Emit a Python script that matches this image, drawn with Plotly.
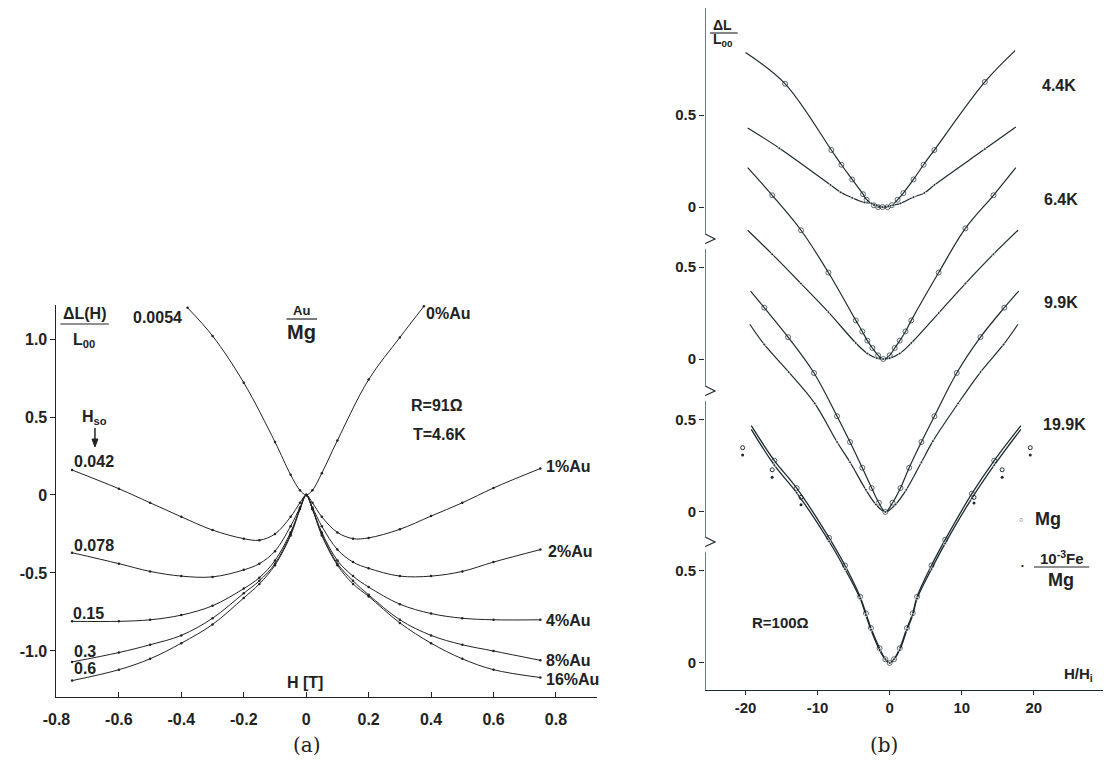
import plotly.graph_objects as go

W, Hh = 1107, 767

# ---------------- Panel (a) data ----------------
H_a = [-0.75, -0.6, -0.5, -0.4, -0.3, -0.2, -0.15, -0.1, -0.05, -0.02, 0,
       0.02, 0.05, 0.1, 0.15, 0.2, 0.3, 0.4, 0.5, 0.6, 0.75]
au1 = [0.16, 0.04, -0.05, -0.14, -0.225, -0.28, -0.29, -0.25, -0.14, -0.05, 0,
       -0.05, -0.14, -0.24, -0.28, -0.275, -0.22, -0.135, -0.05, 0.045, 0.17]
au2 = [-0.37, -0.44, -0.49, -0.52, -0.525, -0.48, -0.44, -0.36, -0.2, -0.08, 0,
       -0.08, -0.2, -0.35, -0.43, -0.47, -0.52, -0.52, -0.49, -0.43, -0.35]
au4 = [-0.81, -0.81, -0.80, -0.77, -0.71, -0.60, -0.53, -0.42, -0.24, -0.09, 0,
       -0.09, -0.24, -0.42, -0.52, -0.59, -0.70, -0.76, -0.79, -0.80, -0.80]
au8 = [-1.07, -1.01, -0.96, -0.90, -0.79, -0.63, -0.55, -0.44, -0.25, -0.09, 0,
       -0.09, -0.25, -0.44, -0.55, -0.64, -0.80, -0.90, -0.96, -1.0, -1.06]
au16 = [-1.19, -1.12, -1.05, -0.95, -0.83, -0.66, -0.57, -0.45, -0.26, -0.09, 0,
        -0.09, -0.26, -0.45, -0.57, -0.65, -0.82, -0.95, -1.05, -1.12, -1.17]
H_au0 = [-0.38, -0.3, -0.2, -0.1, -0.05, -0.02, 0, 0.02, 0.05, 0.1, 0.2, 0.3, 0.377]
au0 = [1.2, 1.02, 0.72, 0.34, 0.13, 0.03, 0, 0.03, 0.14, 0.35, 0.74, 1.01, 1.21]

a_xticks = [-0.8, -0.6, -0.4, -0.2, 0, 0.2, 0.4, 0.6, 0.8]
a_xtext = ["-0.8", "-0.6", "-0.4", "-0.2", "0", "0.2", "0.4", "0.6", "0.8"]
a_yticks = [-1.0, -0.5, 0, 0.5, 1.0]
a_ytext = ["-1.0", "-0.5", "0", "0.5", "1.0"]

# ---------------- Panel (b) data ----------------
# 4.4 K
H44_mg = [-20, -14.5, -8.1, -6.7, -5.2, -3.7, -3.2, -2.2, -1.6, -1, -0.3, 0.3, 1.1, 1.9, 3.3, 4.7, 6.2, 13.2, 17.4]
v44_mg = [0.84, 0.67, 0.31, 0.23, 0.15, 0.07, 0.04, 0.01, 0.0, 0.0, 0.0, 0.01, 0.04, 0.076, 0.15, 0.23, 0.31, 0.68, 0.85]
H44_fe = [-19.7, -15.3, -8.2, -6.8, -5.2, -3.5, -2.5, -1.8, -1, -0.2, 0.5, 1.5, 3.3, 4.8, 6.2, 13.2, 17.5]
v44_fe = [0.43, 0.32, 0.12, 0.08, 0.05, 0.025, 0.02, 0.01, 0.0, 0.005, 0.01, 0.02, 0.054, 0.076, 0.12, 0.315, 0.435]
# 6.4 K
H64_mg = [-19.7, -16.3, -12.3, -8.5, -4.7, -3.8, -3.1, -2.4, -1.6, -0.9, 0, 0.7, 1.4, 2.2, 3, 6.8, 10.5, 14.4, 17.5]
v64_mg = [1.04, 0.89, 0.70, 0.47, 0.21, 0.15, 0.10, 0.06, 0.02, 0.0, 0.02, 0.06, 0.10, 0.15, 0.21, 0.47, 0.71, 0.89, 1.04]
H64_fe = [-19.7, -16.3, -12.3, -8.5, -4.7, -3.1, -1.8, -0.9, 0, 1.4, 3, 6.8, 10.5, 14.4, 17.8]
v64_fe = [0.70, 0.57, 0.41, 0.255, 0.087, 0.03, 0.005, 0.0, 0.005, 0.03, 0.087, 0.25, 0.41, 0.57, 0.70]
# 9.9 K
H99_mg = [-19.3, -17.4, -14.1, -10.5, -7.3, -5.5, -3.8, -2.5, -1.5, -0.6, 0.4, 1.5, 2.7, 4.4, 6.2, 9.3, 12.6, 15.9, 17.9]
v99_mg = [1.2, 1.11, 0.95, 0.755, 0.52, 0.38, 0.24, 0.13, 0.05, 0.0, 0.05, 0.13, 0.24, 0.38, 0.52, 0.755, 0.95, 1.11, 1.2]
H99_fe = [-19.4, -17.4, -14, -10.4, -7.3, -5.5, -3.3, -1.9, -0.6, 0.8, 2.3, 4.4, 6, 9.5, 12.6, 15.8, 17.8]
v99_fe = [1.02, 0.91, 0.76, 0.59, 0.38, 0.27, 0.12, 0.04, 0.0, 0.04, 0.12, 0.27, 0.385, 0.59, 0.76, 0.91, 1.02]
# 19.9 K
H199 = [-19.2, -16, -12.9, -8.4, -6.2, -4.1, -3.3, -2.6, -1.4, -0.6, 0, 0.6, 1.4, 2.4, 3.2, 3.8, 5.8, 7.7, 11.4, 14.5, 18.2]
v199_mg = [1.29, 1.10, 0.95, 0.68, 0.53, 0.36, 0.27, 0.19, 0.08, 0.02, 0, 0.02, 0.08, 0.19, 0.27, 0.36, 0.53, 0.67, 0.92, 1.10, 1.29]
v199_fe = [1.27, 1.075, 0.925, 0.66, 0.51, 0.35, 0.26, 0.18, 0.07, 0.02, 0, 0.02, 0.07, 0.18, 0.26, 0.35, 0.51, 0.65, 0.895, 1.075, 1.27]
# 19.9 K outer points off the curves
H199_out = [-20.4, -16.3, -12.3, 11.7, 15.6, 19.5]
v199_out_mg = [1.17, 1.05, 0.90, 0.90, 1.05, 1.17]
v199_out_fe = [1.13, 1.01, 0.86, 0.87, 1.01, 1.13]

b_xticks = [-20, -10, 0, 10, 20]
b_xtext = ["-20", "-10", "0", "10", "20"]

# vertical offsets of the stacked groups (axis layout)
OFF = {"19.9K": 0.0, "9.9K": 0.821, "6.4K": 1.652, "4.4K": 2.478}

FONT = "Liberation Sans, Arial, sans-serif"
INK = "#222222"
INKB = "#1d2b31"

fig = go.Figure()


def add_a(x, y):
    fig.add_trace(go.Scatter(x=x, y=y, mode="lines+markers", xaxis="x", yaxis="y",
                             line=dict(color=INK, width=1, shape="spline", smoothing=1.0),
                             marker=dict(size=2.5, color=INK), showlegend=False, hoverinfo="skip"))


for arr in [au1, au2, au4, au8, au16]:
    add_a(H_a, arr)
add_a(H_au0, au0)


def add_b(x, y, off, kind, width=1.2, ends=True):
    yy = [v + off for v in y]
    n = len(x)
    sizes = [5 if kind == "mg" else 3] * n
    if ends:
        sizes[0] = 0
        sizes[-1] = 0
    if kind == "mg":
        marker = dict(size=sizes, symbol="circle-open", color=INKB, line=dict(width=1, color=INKB))
    else:
        marker = dict(size=sizes, symbol="circle", color=INKB)
    fig.add_trace(go.Scatter(x=x, y=yy, mode="lines+markers", xaxis="x2", yaxis="y2",
                             line=dict(color=INKB, width=width, shape="spline", smoothing=1.0),
                             marker=marker, showlegend=False, hoverinfo="skip"))


add_b(H44_mg, v44_mg, OFF["4.4K"], "mg")
add_b(H44_fe, v44_fe, OFF["4.4K"], "fe")
add_b(H64_mg, v64_mg, OFF["6.4K"], "mg")
add_b(H64_fe, v64_fe, OFF["6.4K"], "fe")
add_b(H99_mg, v99_mg, OFF["9.9K"], "mg")
add_b(H99_fe, v99_fe, OFF["9.9K"], "fe")
add_b(H199, v199_mg, OFF["19.9K"], "mg", width=1.3)
add_b(H199, v199_fe, OFF["19.9K"], "fe", width=1.3)
fig.add_trace(go.Scatter(x=H199_out, y=v199_out_mg, mode="markers", xaxis="x2", yaxis="y2",
                         marker=dict(size=4, symbol="circle-open", color=INKB, line=dict(width=1, color=INKB)),
                         showlegend=False, hoverinfo="skip"))
fig.add_trace(go.Scatter(x=H199_out, y=v199_out_fe, mode="markers", xaxis="x2", yaxis="y2",
                         marker=dict(size=3, color=INKB), showlegend=False, hoverinfo="skip"))


def px(x):
    return x / W


def py(y):
    return 1 - y / Hh


b_yticks = []
b_ytext = []
for key in ["19.9K", "9.9K", "6.4K", "4.4K"]:
    b_yticks += [OFF[key], OFF[key] + 0.5]
    b_ytext += ["0", "0.5"]

tickfont = dict(family=FONT, size=16, color=INK, weight="bold")

fig.update_layout(
    width=W, height=Hh, margin=dict(l=0, r=0, t=0, b=0),
    paper_bgcolor="white", plot_bgcolor="rgba(0,0,0,0)",
    xaxis=dict(domain=[px(43), px(590)], range=[-0.8, 0.93], anchor="y",
               showline=True, linecolor=INK, linewidth=1, showgrid=False, zeroline=False,
               ticks="inside", ticklen=5, tickcolor=INK, tickvals=a_xticks, ticktext=a_xtext,
               tickfont=tickfont, ticklabelstandoff=8),
    yaxis=dict(domain=[py(697), py(305)], range=[-1.295, 1.218], anchor="x",
               showline=True, linecolor=INK, linewidth=1, showgrid=False, zeroline=False,
               ticks="outside", ticklen=5, tickcolor=INK, tickvals=a_yticks, ticktext=a_ytext,
               tickfont=tickfont),
    xaxis2=dict(domain=[px(700), px(1103)], range=[-25.6, 29.6], anchor="y2",
                showline=True, linecolor=INKB, linewidth=1.2, showgrid=False, zeroline=False,
                ticks="outside", ticklen=4, tickcolor=INKB, tickvals=b_xticks, ticktext=b_xtext,
                tickfont=dict(family=FONT, size=15, color=INK, weight="bold")),
    yaxis2=dict(domain=[py(690), py(8)], range=[-0.147, 3.56], anchor="x2",
                showline=False, showgrid=False, zeroline=False,
                ticks="outside", ticklen=5, tickcolor=INKB, tickvals=b_yticks, ticktext=b_ytext,
                tickfont=dict(family=FONT, size=15, color=INK, weight="bold")),
)

# y-axis line of (b) with break marks (drawn in axis coordinates)
x0 = -25.6
dx = 1.0 / 7.3      # one pixel in x2 units
dy = 1.0 / 184.0    # one pixel in y2 units
breaks = [(663 - 242) / 184.0, (663 - 394) / 184.0, (663 - 545) / 184.0]
path = f"M {x0},{3.56} "
for b in breaks:
    path += f"L {x0},{b + 8*dy} L {x0 + 10*dx},{b + 3*dy} L {x0 - 3*dx},{b - 3*dy} L {x0},{b - 8*dy} "
path += f"L {x0},{-0.147}"
fig.add_shape(type="path", path=path, xref="x2", yref="y2", line=dict(color=INKB, width=1.2))

annots = []


def txt(x, y, s, size=16, bold=True, xanchor="center", family=FONT, color=INK):
    annots.append(dict(x=px(x), y=py(y), xref="paper", yref="paper", text=s, showarrow=False,
                       xanchor=xanchor, yanchor="middle",
                       font=dict(family=family, size=size, color=color,
                                 weight="bold" if bold else "normal")))


def hline(xa, xb, y, w=1.2):
    fig.add_shape(type="line", xref="paper", yref="paper", x0=px(xa), x1=px(xb), y0=py(y), y1=py(y),
                  line=dict(color=INK, width=w))


# ---- panel (a) texts
txt(71, 313, "ΔL(H)", 16)
txt(71, 341, "L<sub>00</sub>", 16)
hline(47, 96, 324)
txt(145, 317, "0.0054", 16)
txt(291, 310, "Au", 13)
hline(276, 307, 319)
txt(291, 332, "Mg", 20)
txt(440, 313, "0%Au", 16)
txt(428, 406, "R=91Ω", 16)
txt(431, 434, "T=4.6K", 16)
txt(82, 417, "H<sub>so</sub>", 16)
# small down arrow under H_so
fig.add_shape(type="line", xref="paper", yref="paper", x0=px(82), x1=px(82), y0=py(428), y1=py(441),
              line=dict(color=INK, width=1.5))
fig.add_shape(type="path", xref="paper", yref="paper",
              path=f"M {px(79)},{py(439)} L {px(85)},{py(439)} L {px(82)},{py(447)} Z",
              fillcolor=INK, line=dict(color=INK, width=1))
txt(81, 461, "0.042", 16)
txt(81, 545, "0.078", 16)
txt(75, 613, "0.15", 16)
txt(72, 651, "0.3", 16)
txt(72, 668, "0.6", 16)
txt(295, 682, "H [T]", 16)
txt(537, 467, "1%Au", 16, xanchor="left")
txt(539, 551, "2%Au", 16, xanchor="left")
txt(537, 620, "4%Au", 16, xanchor="left")
txt(537, 660, "8%Au", 16, xanchor="left")
txt(537, 679, "16%Au", 16, xanchor="left")

# ---- panel (b) texts
txt(718, 25, "ΔL", 14)
hline(705, 733, 33, 1.1)
txt(718, 40, "L<sub>00</sub>", 14)
txt(1058, 86, "4.4K", 16)
txt(1060, 199, "6.4K", 16)
txt(1060, 303, "9.9K", 16)
txt(1064, 425, "19.9K", 16)
txt(1020, 519, "○", 7, bold=False)
txt(1047, 519, "Mg", 18, xanchor="center")
txt(1021, 565, "•", 8, bold=False)
txt(1061, 557, "10<sup>-3</sup>Fe", 15)
hline(1033, 1089, 567)
txt(1060, 580, "Mg", 18)
txt(776, 622, "R=100Ω", 15)
txt(1078, 674, "H/H<sub>i</sub>", 15)

# ---- captions
txt(297, 745, "(a)", 20, bold=False, family="DejaVu Serif, serif")
txt(881, 745, "(b)", 20, bold=False, family="DejaVu Serif, serif")

fig.update_layout(annotations=annots)
fig.write_html("out.html")
